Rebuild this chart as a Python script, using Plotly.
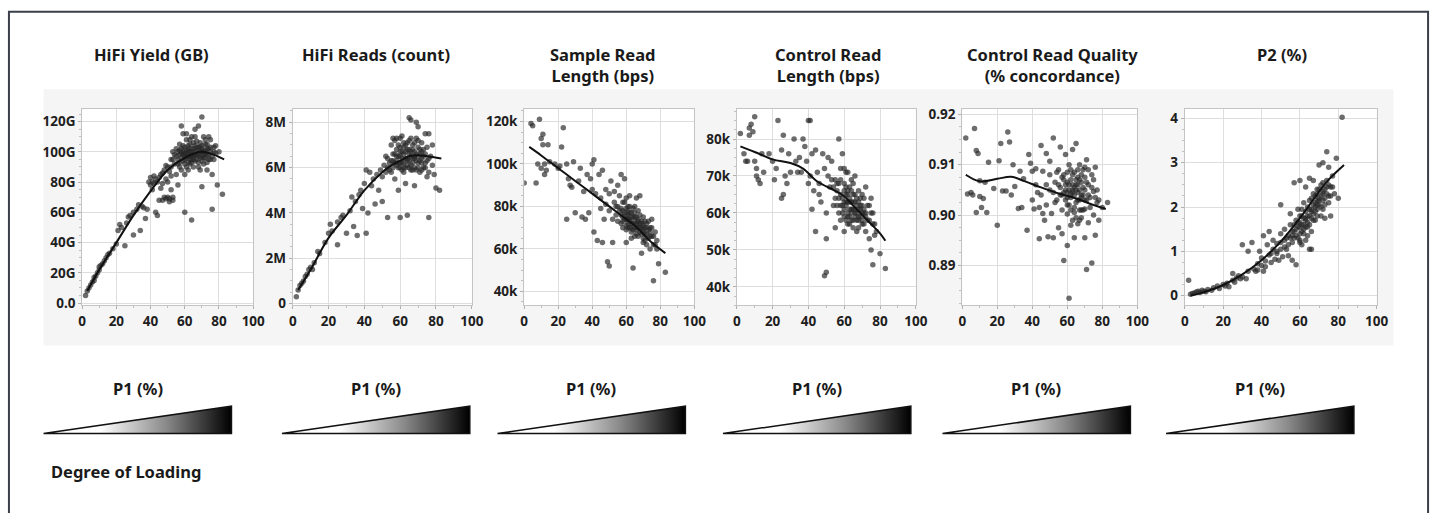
import plotly.graph_objects as go

W, H = 1446, 513

# ---------------- text ----------------
panel_titles = ["HiFi Yield (GB)", "HiFi Reads (count)", "Sample Read<br>Length (bps)",
                "Control Read<br>Length (bps)", "Control Read Quality<br>(% concordance)", "P2 (%)"]
x_label = "P1 (%)"
loading_label = "Degree of Loading"

x_ticks = [0, 20, 40, 60, 80, 100]

# ---------------- panel 1: HiFi Yield (GB) ----------------
yield_ticks = [0, 20, 40, 60, 80, 100, 120]
yield_labels = ["0.0", "20G", "40G", "60G", "80G", "100G", "120G"]
yield_pts = [(2,5),(3,8),(4,10),(5,12),(6,14),(7,15),(7,17),(8,18),(9,20),(10,22),(10,24),(11,25),(12,26),(13,28),
    (14,30),(15,32),(16,33),(18,36),(20,39),(21,48),(22,52),(23,50),(25,38),(26,53),(27,57),(28,58),(30,45),(30,60),
    (32,62),(33,65),(34,48),(35,64),(36,63),(37,56),(38,62),(39,80),(40,78),(40,83),(41,75),(42,84),(43,60),(44,58),
    (44,80),(45,68),(46,85),(47,79),(48,70),(48,88),(49,82),(50,70),(50,90),(51,69),(52,75),(52,95),(53,68),(53,100),
    (54,92),(55,102),(55,85),(56,95),(56,78),(57,98),(57,105),(58,88),(58,117),(59,100),(59,112),(60,60),(60,95),
    (60,103),(61,108),(61,90),(62,97),(62,100),(63,105),(63,92),(64,55),(64,98),(64,110),(65,95),(65,102),(66,115),
    (66,100),(67,98),(67,107),(68,117),(68,93),(69,103),(69,88),(70,123),(70,100),(70,77),(71,110),(71,96),(72,105),
    (72,99),(73,102),(73,93),(74,110),(74,98),(75,108),(75,95),(76,62),(76,85),(77,103),(77,100),(78,99),(79,78),
    (80,100),(82,72),(55,97),(56,100),(57,93),(58,96),(58,102),(59,94),(59,98),(60,99),(60,92),(61,101),(61,96),
    (62,93),(62,104),(63,97),(63,100),(64,95),(64,102),(65,98),(65,106),(66,94),(66,104),(67,101),(67,95),(68,99),
    (68,103),(69,96),(69,106),(70,97),(70,104),(71,100),(71,92),(72,108),(72,96),(73,98),(74,102),(75,100),(76,97),
    (77,95),(78,104),(54,98),(53,95),(52,90),(57,90),(60,85),(62,88),(65,90),(68,90),(73,88),(41,80),(42,79),(43,82),
    (45,83),(46,76),(47,86),(49,91),(50,80),(51,87),(52,84),(47,68),(49,69),(51,67),(53,70),(58,99),(59,104),(60,97),
    (61,99),(62,102),(63,95),(64,100),(65,97),(66,98),(67,103),(68,97),(69,100),(70,102),(71,98),(72,101),(73,105),
    (74,95),(75,103),(63,108),(61,112),(66,110),(57,101),(56,92),(64,93),(70,94)]
yield_fit_x = [3, 10, 20, 30, 40, 50, 60, 70, 83]
yield_fit_y = [8, 22, 40, 58, 74, 88, 96, 100, 95]

# ---------------- panel 2: HiFi Reads (M) ----------------
reads_ticks = [0, 2, 4, 6, 8]
reads_labels = ["0", "2M", "4M", "6M", "8M"]
reads_pts = [(2,0.3),(3,0.6),(4,0.8),(5,0.9),(6,1.0),(7,1.2),(8,1.3),(9,1.5),(10,1.6),(11,1.5),(12,1.8),(14,2.3),
    (15,2.2),(18,2.7),(20,3.1),(21,3.5),(22,3.2),(25,2.6),(25,3.6),(27,3.8),(28,3.9),(30,3.1),(32,4.1),(33,4.7),
    (34,3.4),(35,4.5),(36,3.0),(37,4.8),(38,5.0),(39,4.2),(40,5.3),(41,3.1),(41,5.9),(42,4.0),(43,5.8),(44,5.2),
    (45,5.5),(46,4.4),(47,5.7),(48,5.0),(49,5.9),(50,4.5),(50,5.6),(51,6.1),(52,6.5),(53,3.8),(53,6.0),(54,6.2),
    (55,5.8),(55,7.0),(56,6.3),(57,5.5),(57,7.2),(58,6.1),(58,6.8),(59,5.0),(59,6.5),(60,3.8),(60,6.9),(60,6.0),
    (61,7.4),(61,6.2),(62,5.8),(62,6.6),(63,7.0),(63,5.3),(64,3.9),(64,6.4),(65,8.2),(65,7.2),(65,6.0),(66,8.1),
    (66,6.7),(67,7.0),(67,5.9),(68,5.2),(68,6.5),(69,8.0),(69,7.3),(70,6.2),(70,7.8),(71,6.8),(71,5.8),(72,6.4),
    (72,7.1),(73,6.0),(74,7.5),(74,6.6),(75,5.6),(75,6.3),(76,3.8),(76,7.5),(76,5.8),(77,6.5),(78,7.0),(79,5.7),
    (80,5.1),(82,5.0),(55,6.3),(56,6.0),(57,6.6),(58,6.3),(59,6.0),(59,7.0),(60,6.5),(61,6.7),(61,5.9),(62,6.2),
    (62,7.1),(63,6.4),(63,6.0),(64,6.8),(64,6.1),(65,6.6),(65,6.3),(66,6.1),(66,7.3),(67,6.4),(67,6.8),(68,6.0),
    (68,7.1),(69,6.6),(69,5.9),(70,6.5),(70,6.9),(71,6.3),(72,6.7),(72,5.9),(73,6.5),(74,6.2),(75,6.9),(76,6.4),
    (78,6.1),(54,5.9),(53,6.4),(52,5.8),(56,7.3),(58,7.3),(60,7.3),(58,6.5),(59,6.2),(60,6.7),(61,6.4),(62,6.9),
    (63,6.7),(64,6.3),(65,6.8),(66,6.5),(67,6.2),(68,6.7),(69,6.3),(70,6.0),(71,6.6),(72,6.2),(73,6.8),(74,6.0),
    (57,6.2),(56,6.6),(62,6.0),(66,5.9),(64,7.1),(60,6.2),(68,6.4),(70,7.2)]
reads_fit_x = [3, 10, 20, 30, 40, 50, 55, 60, 65, 70, 75, 83]
reads_fit_y = [0.6, 1.5, 2.9, 3.9, 5.0, 5.8, 6.1, 6.3, 6.5, 6.55, 6.5, 6.4]

# ---------------- panel 3: Sample Read Length (k) ----------------
srl_ticks = [40, 60, 80, 100, 120]
srl_labels = ["40k", "60k", "80k", "100k", "120k"]
srl_pts = [(0,91),(4,119),(5,118),(7,91),(8,100),(9,121),(10,112),(10,98),(11,114),(11,109),(12,100),(12,95),(13,97),
    (14,109),(15,101),(18,100),(20,98),(21,99),(22,108),(23,117),(25,74),(25,100),(26,93),(27,90),(28,89),(29,101),
    (30,77),(32,92),(33,98),(34,75),(35,87),(36,74),(37,95),(38,77),(39,93),(40,100),(40,88),(41,102),(41,68),(42,86),
    (43,64),(44,95),(45,84),(45,79),(46,97),(46,63),(47,74),(48,88),(48,81),(49,54),(50,52),(50,86),(50,78),(51,92),
    (52,74),(52,63),(53,87),(54,80),(55,90),(55,73),(56,85),(57,95),(57,76),(58,78),(58,70),(59,93),(59,82),(60,74),
    (60,63),(61,80),(61,70),(62,77),(62,85),(63,72),(63,68),(64,79),(64,51),(65,75),(65,66),(66,84),(66,72),(67,70),
    (67,78),(68,68),(68,85),(69,73),(69,58),(70,65),(70,75),(71,70),(72,62),(72,67),(73,73),(74,60),(74,70),(75,66),
    (75,74),(76,45),(76,62),(77,68),(78,64),(79,53),(83,49),(56,78),(57,72),(58,75),(59,77),(60,79),(60,71),(61,74),
    (61,76),(62,70),(62,74),(63,77),(63,75),(64,72),(64,69),(65,73),(65,77),(66,69),(66,75),(67,73),(67,66),(68,72),
    (69,70),(69,67),(70,71),(70,68),(71,73),(71,64),(72,70),(73,65),(74,68),(75,70),(76,66),(77,62),(78,60),(55,80),
    (54,76),(53,82),(58,82),(60,84),(62,80),(59,74),(60,76),(61,72),(62,73),(63,70),(64,75),(65,70),(66,71),(67,74),
    (68,70),(69,72),(70,69),(71,67),(72,72),(73,69),(74,66),(58,73),(57,79),(61,78),(65,80),(68,76),(70,63),(63,65),
    (66,67),(60,69)]
srl_fit_x = [3, 10, 20, 30, 40, 50, 55, 60, 65, 70, 75, 83]
srl_fit_y = [108, 104, 98, 92, 86, 80, 77, 74, 71, 67, 63, 58]

# ---------------- panel 4: Control Read Length (k) ----------------
crl_ticks = [40, 50, 60, 70, 80]
crl_labels = ["40k", "50k", "60k", "70k", "80k"]
crl_pts = [(2,81.5),(4,76),(5,74),(6,74),(7,81),(7,83),(8,84),(9,82),(10,86),(10,74),(11,70),(11,72),(12,69),(13,68),
    (14,76),(15,71),(18,76),(20,74),(21,69),(22,72),(23,85),(25,77),(25,64),(26,81),(26,65),(27,70),(28,68),(29,76),
    (30,71),(32,80),(33,74),(34,71),(35,75),(36,71),(37,80),(38,78),(39,74),(40,85),(40,68),(41,85),(41,70),(42,76),
    (42,61),(43,66),(44,55),(44,77),(45,71),(46,68),(46,65),(47,63),(48,76),(49,43),(49,72),(50,44),(50,60),(50,53),
    (51,70),(51,75),(52,67),(53,74),(54,62),(55,69),(55,56),(56,66),(57,80),(57,64),(58,72),(58,58),(59,76),(59,62),
    (60,68),(60,55),(61,71),(61,63),(62,60),(62,66),(63,64),(63,57),(64,69),(64,60),(65,65),(65,58),(66,63),(66,70),
    (67,60),(67,55),(68,66),(68,58),(69,62),(70,65),(70,57),(71,60),(72,67),(72,55),(73,62),(74,53),(74,58),(75,64),
    (75,50),(76,46),(76,60),(77,57),(78,55),(80,49),(83,45),(56,62),(57,68),(58,65),(59,60),(60,63),(60,66),(61,58),
    (61,67),(62,63),(62,57),(63,61),(63,67),(64,58),(64,63),(65,61),(65,68),(66,59),(66,60),(67,62),(67,64),(68,61),
    (68,56),(69,59),(69,64),(70,60),(70,62),(71,57),(71,64),(72,60),(73,58),(74,62),(75,60),(76,57),(77,54),(55,64),
    (54,67),(53,69),(58,69),(60,72),(62,71),(59,64),(60,61),(61,62),(62,59),(63,63),(64,61),(65,63),(66,61),(67,58),
    (68,63),(69,61),(70,58),(71,61),(72,59),(58,62),(57,60),(62,65),(64,66),(66,65),(60,59),(63,59),(65,56),(68,59),
    (56,68),(61,65)]
crl_fit_x = [2, 10, 20, 30, 37, 45, 55, 60, 65, 70, 75, 80, 83]
crl_fit_y = [78, 76.5, 74.5, 73.5, 72, 68.5, 66, 64.5, 62, 59.5, 57, 54.5, 52.5]

# ---------------- panel 5: Control Read Quality ----------------
crq_ticks = [0.89, 0.90, 0.91, 0.92]
crq_labels = ["0.89", "0.90", "0.91", "0.92"]
crq_pts = [(2,0.9153),(3,0.9042),(5,0.9045),(6,0.9040),(7,0.9172),(8,0.9005),(8,0.9128),(9,0.9122),(10,0.9037),
    (10,0.9068),(11,0.9015),(12,0.9033),(13,0.9065),(14,0.9005),(15,0.9105),(18,0.9053),(20,0.8980),(21,0.9108),
    (22,0.9142),(23,0.9048),(25,0.9048),(26,0.9165),(27,0.9145),(28,0.9040),(29,0.9100),(30,0.9057),(32,0.9013),
    (33,0.9087),(34,0.9015),(35,0.9072),(37,0.8970),(38,0.9120),(39,0.9103),(40,0.9030),(40,0.9087),(41,0.9012),
    (42,0.9092),(43,0.9045),(44,0.8953),(44,0.9015),(45,0.9138),(46,0.9003),(46,0.9087),(47,0.8990),(48,0.9122),
    (48,0.9020),(49,0.8957),(50,0.9107),(50,0.9050),(51,0.9003),(52,0.9153),(52,0.8955),(53,0.9065),(54,0.9030),
    (55,0.9090),(55,0.8975),(56,0.9135),(56,0.9040),(57,0.9010),(57,0.8963),(58,0.8910),(58,0.9080),(59,0.9120),
    (59,0.9030),(60,0.9002),(60,0.8940),(60,0.9065),(61,0.8835),(61,0.9100),(62,0.9042),(62,0.8980),(63,0.9130),
    (63,0.9060),(64,0.9015),(64,0.8955),(65,0.9142),(65,0.9050),(66,0.8983),(66,0.9090),(67,0.9030),(67,0.9070),
    (68,0.8995),(68,0.9040),(69,0.9090),(70,0.8955),(70,0.9012),(71,0.8892),(71,0.9110),(72,0.9060),(72,0.8985),
    (73,0.9035),(74,0.8905),(74,0.9080),(75,0.9000),(75,0.9047),(76,0.9095),(76,0.8960),(77,0.9025),(78,0.8990),
    (80,0.9015),(83,0.9025),(56,0.9055),(57,0.9075),(58,0.9045),(59,0.9060),(60,0.9035),(60,0.9085),(61,0.9050),
    (61,0.9020),(62,0.9070),(62,0.9010),(63,0.9045),(63,0.8990),(64,0.9055),(64,0.9085),(65,0.9025),(65,0.8995),
    (66,0.9060),(66,0.9045),(67,0.9010),(67,0.9100),(68,0.9065),(68,0.9080),(69,0.9040),(69,0.9010),(70,0.9075),
    (70,0.9050),(71,0.9030),(72,0.9090),(73,0.9015),(74,0.9055),(75,0.9070),(76,0.9035),(77,0.9050),(78,0.9030),
    (55,0.9060),(54,0.9085),(53,0.9025),(52,0.9045),(50,0.9080),(48,0.9060),(45,0.9040),(42,0.9060),(60,0.9045),
    (61,0.9060),(62,0.9035),(63,0.9050),(64,0.9040),(65,0.9060),(66,0.9030),(67,0.9050),(68,0.9035),(69,0.9055),
    (70,0.9030),(71,0.9065),(72,0.9040),(59,0.9050),(58,0.9070),(57,0.9040),(62,0.9090),(64,0.9005),(66,0.9075),
    (68,0.9010),(70,0.9095),(60,0.9020),(63,0.9080),(65,0.9070),(67,0.8990)]
crq_fit_x = [2, 10, 20, 28, 35, 45, 55, 65, 75, 82]
crq_fit_y = [0.9080, 0.9067, 0.9072, 0.9076, 0.9068, 0.9055, 0.9043, 0.9033, 0.9020, 0.9012]

# ---------------- panel 6: P2 (%) ----------------
p2_ticks = [0, 1, 2, 3, 4]
p2_labels = ["0", "1", "2", "3", "4"]
p2_pts = [(2,0.35),(3,0.03),(4,0.05),(5,0.06),(6,0.08),(7,0.10),(8,0.07),(9,0.12),(10,0.10),(11,0.09),(12,0.14),
    (14,0.12),(15,0.18),(17,0.22),(18,0.16),(20,0.25),(21,0.22),(22,0.28),(23,0.20),(25,0.50),(25,0.35),(26,0.30),
    (27,0.40),(28,0.45),(29,0.38),(30,1.15),(30,0.42),(32,0.38),(33,1.00),(33,0.55),(35,1.20),(36,0.60),(37,0.55),
    (38,0.72),(39,1.00),(40,0.68),(40,0.85),(41,1.35),(41,0.55),(42,0.78),(43,1.15),(44,1.45),(44,0.92),(45,0.75),
    (46,1.05),(46,1.25),(47,0.82),(48,0.95),(48,1.18),(49,0.80),(50,2.05),(50,1.40),(50,1.05),(51,0.88),(52,1.50),
    (52,1.25),(53,1.05),(54,0.90),(54,1.35),(55,1.85),(55,1.60),(56,0.80),(56,1.20),(57,2.55),(57,1.45),(58,0.70),
    (58,1.70),(59,1.30),(59,1.95),(60,2.60),(60,1.55),(60,1.20),(61,1.80),(61,1.15),(62,1.50),(62,2.10),(63,2.45),
    (63,1.75),(64,1.35),(64,2.00),(65,2.65),(65,1.60),(65,1.05),(66,1.90),(66,1.05),(67,2.60),(67,2.30),(68,1.70),
    (68,2.10),(69,2.40),(69,1.95),(70,2.95),(70,2.20),(71,1.80),(71,2.50),(72,3.00),(72,2.30),(73,2.05),(73,1.75),
    (74,3.25),(74,2.60),(75,2.90),(75,2.25),(76,1.80),(76,2.45),(77,2.70),(78,2.30),(79,3.10),(80,2.20),(82,4.03),
    (56,1.45),(57,1.60),(58,1.50),(59,1.65),(60,1.80),(60,1.40),(61,1.60),(61,1.95),(62,1.75),(62,1.40),(63,1.90),
    (63,1.55),(64,1.80),(64,1.65),(65,1.95),(65,2.15),(66,1.75),(66,2.20),(67,2.05),(67,1.85),(68,2.25),(68,1.90),
    (69,2.15),(69,2.30),(70,2.05),(70,2.40),(71,2.25),(72,2.15),(72,2.55),(73,2.40),(74,2.30),(75,2.50),(76,2.25),
    (77,2.45),(55,1.30),(54,1.15),(53,1.30),(52,1.10),(50,1.20),(48,1.00),(45,0.95),(42,0.65),(38,0.58),(58,1.35),
    (59,1.55),(60,1.65),(61,1.45),(62,1.60),(63,1.70),(64,1.55),(65,1.80),(66,1.95),(67,1.70),(68,2.00),(69,2.05),
    (70,2.15),(71,2.00),(72,2.35),(73,2.20),(74,2.45),(57,1.30),(56,1.35),(60,1.25),(63,1.25),(66,1.45),(69,1.80),
    (72,1.95),(75,2.10)]
p2_fit_x = [3, 10, 20, 30, 40, 50, 60, 70, 75, 83]
p2_fit_y = [0.0, 0.08, 0.24, 0.48, 0.80, 1.22, 1.75, 2.35, 2.62, 2.95]

# ranges for each panel's y axis
y_ranges = [[-1.5, 128.5], [-0.08, 8.6], [33.4, 126], [35, 88.2], [0.8821, 0.9211], [-0.22, 4.22]]

panels = [
    (yield_pts, yield_fit_x, yield_fit_y, yield_ticks, yield_labels),
    (reads_pts, reads_fit_x, reads_fit_y, reads_ticks, reads_labels),
    (srl_pts, srl_fit_x, srl_fit_y, srl_ticks, srl_labels),
    (crl_pts, crl_fit_x, crl_fit_y, crl_ticks, crl_labels),
    (crq_pts, crq_fit_x, crq_fit_y, crq_ticks, crq_labels),
    (p2_pts, p2_fit_x, p2_fit_y, p2_ticks, p2_labels),
]

# ---------------- layout geometry (pixels) ----------------
FONT = "Noto Sans"
plot_lefts = [79, 292, 526, 741, 969, 1194]
plot_rights = [252, 473, 698, 922, 1146, 1388]
title_centers = [149, 376, 606, 833, 1060, 1292]
plot_top, plot_bot = 107, 308
band = (40, 87, 1405, 349)
tri_lefts = [40, 281, 499, 727, 949, 1175]
tri_w = 190
tri_top, tri_base = 411, 439
label_y, loading_y = 393, 478
title_top = 38
TITLE_SIZE, TICK_SIZE = 16.5, 13.5


def px(x):
    return x / W


def py(y):
    return 1 - y / H


fig = go.Figure()
layout = dict(
    width=W, height=H, margin=dict(l=0, r=0, t=0, b=0),
    paper_bgcolor="white", plot_bgcolor="rgba(0,0,0,0)",
    showlegend=False, font=dict(family=FONT, color="#222"),
)
shapes = [
    dict(type="rect", xref="paper", yref="paper", x0=px(band[0]), x1=px(band[2]),
         y0=py(band[3]), y1=py(band[1]), fillcolor="#f5f5f5", line=dict(width=0), layer="below"),
]
annotations = []
title_font = dict(family=FONT, size=TITLE_SIZE, color="#1a1a1a")
tick_font = dict(family=FONT, size=TICK_SIZE, color="#1e1e1e", weight="bold")

for i, (pts, fx, fy, tv, tt) in enumerate(panels):
    n = "" if i == 0 else str(i + 1)
    left, right = plot_lefts[i], plot_rights[i]
    xs = [p[0] for p in pts]
    ys = [p[1] for p in pts]
    fig.add_trace(go.Scatter(x=xs, y=ys, mode="markers", xaxis="x" + n, yaxis="y" + n,
                             marker=dict(size=5.5, color="rgba(40,40,40,0.68)", line=dict(width=0)),
                             hoverinfo="skip"))
    fig.add_trace(go.Scatter(x=fx, y=fy, mode="lines", xaxis="x" + n, yaxis="y" + n,
                             line=dict(color="#111", width=2, shape="spline"), hoverinfo="skip"))
    layout["xaxis" + n] = dict(
        domain=[px(left), px(right)], anchor="y" + n, range=[0, 100],
        tickvals=x_ticks, showgrid=True, gridcolor="#dedede", gridwidth=1,
        showline=True, linecolor="#c4c4c4", linewidth=1, mirror=True, zeroline=False,
        ticks="outside", ticklen=3, tickcolor="#b0b0b0",
        minor=dict(ticks="outside", ticklen=2, tickcolor="#c0c0c0", dtick=10, showgrid=False),
        tickfont=tick_font, fixedrange=True,
    )
    dt = tv[1] - tv[0]
    layout["yaxis" + n] = dict(
        domain=[py(plot_bot), py(plot_top)], anchor="x" + n, range=y_ranges[i],
        tickvals=tv, ticktext=tt, showgrid=True, gridcolor="#dedede", gridwidth=1,
        showline=True, linecolor="#c4c4c4", linewidth=1, mirror=True, zeroline=False,
        ticks="outside", ticklen=3, tickcolor="#b0b0b0",
        minor=dict(ticks="outside", ticklen=2, tickcolor="#c0c0c0", dtick=dt / 4, tick0=tv[0], showgrid=False),
        tickfont=tick_font, fixedrange=True,
    )
    shapes.append(dict(type="rect", xref="paper", yref="paper", x0=px(left), x1=px(right),
                       y0=py(plot_bot), y1=py(plot_top), fillcolor="white", line=dict(width=0), layer="below"))
    annotations.append(dict(text="<b>" + panel_titles[i] + "</b>", xref="paper", yref="paper",
                            x=px(title_centers[i]), y=py(title_top), xanchor="center", yanchor="top",
                            align="center", showarrow=False, font=title_font))

# ---------------- degree-of-loading triangles (overlay axis in pixel units) ----------------
layout["xaxis7"] = dict(domain=[0, 1], range=[0, W], visible=False, anchor="y7", fixedrange=True)
layout["yaxis7"] = dict(domain=[0, 1], range=[H, 0], visible=False, anchor="x7", fixedrange=True)
for l in tri_lefts:
    r = l + tri_w
    fig.add_trace(go.Scatter(
        x=[l, r, r, l], y=[tri_base, tri_base, tri_top, tri_base], xaxis="x7", yaxis="y7",
        mode="lines", fill="toself", line=dict(color="#111", width=1.5),
        fillgradient=dict(type="horizontal",
                          colorscale=[[0, "#ffffff"], [0.3, "#ffffff"], [0.65, "#8a8a8a"], [1, "#000000"]]),
        hoverinfo="skip"))
    annotations.append(dict(text="<b>" + x_label + "</b>", xref="paper", yref="paper",
                            x=px((l + r) / 2), y=py(label_y), xanchor="center", yanchor="middle",
                            showarrow=False, font=title_font))

annotations.append(dict(text="<b>" + loading_label + "</b>", xref="paper", yref="paper",
                        x=px(45), y=py(loading_y), xanchor="left", yanchor="middle",
                        showarrow=False, font=title_font))

# outer frame
shapes.append(dict(type="rect", xref="paper", yref="paper", x0=px(5), x1=px(1440), y0=-0.2, y1=py(8),
                   line=dict(color="#3a3f4a", width=2), fillcolor="rgba(0,0,0,0)", layer="above"))

layout["shapes"] = shapes
layout["annotations"] = annotations
fig.update_layout(**layout)
fig.write_html("out.html", config={"displayModeBar": False},
               post_script="document.body.style.margin='0';document.body.style.overflow='hidden';")
